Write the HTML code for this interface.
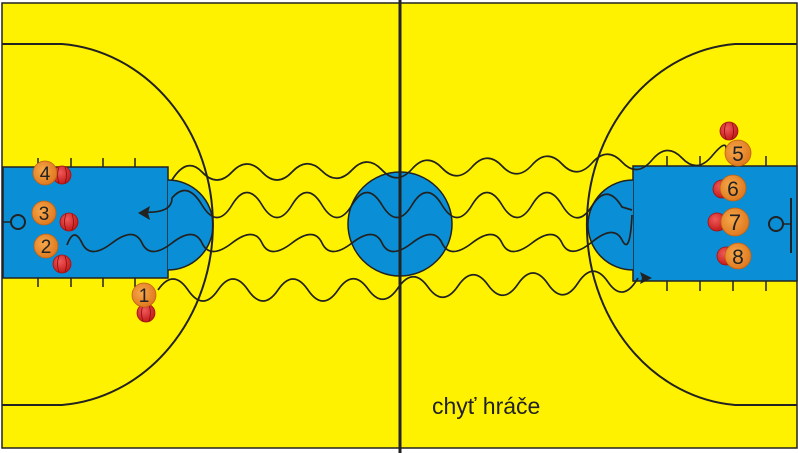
<!DOCTYPE html>
<html><head><meta charset="utf-8"><style>
html,body{margin:0;padding:0;background:#fff;}
svg{display:block;}
</style></head><body>
<svg width="798" height="453" viewBox="0 0 798 453" xmlns="http://www.w3.org/2000/svg">
<defs>
<radialGradient id="og" cx="0.4" cy="0.4" r="0.6"><stop offset="0" stop-color="#f7a84a"/><stop offset="1" stop-color="#e07a20"/></radialGradient>
<radialGradient id="rg" cx="0.4" cy="0.35" r="0.65"><stop offset="0" stop-color="#f05a5a"/><stop offset="1" stop-color="#c41a1a"/></radialGradient>
</defs>
<rect x="0" y="0" width="798" height="453" fill="#fff"/>
<rect x="2" y="3" width="795" height="445" fill="#fff200" stroke="#222" stroke-width="1.5"/>
<rect x="3" y="167" width="165" height="111" fill="#0a8fd6" stroke="#222" stroke-width="1.5"/>
<path d="M168,180 A42,42 0 0 1 168,270" fill="#0a8fd6" stroke="#222" stroke-width="1.5"/>
<rect x="633" y="166" width="164" height="115" fill="#0a8fd6" stroke="#222" stroke-width="1.5"/>
<path d="M633,180 A42,42 0 0 0 633,270" fill="#0a8fd6" stroke="#222" stroke-width="1.5"/>
<circle cx="400" cy="224" r="52" fill="#0a8fd6" stroke="#222" stroke-width="1.5"/>
<g stroke="#222" stroke-width="1.5">
<line x1="38" y1="158" x2="38" y2="167"/><line x1="71" y1="158" x2="71" y2="167"/><line x1="103" y1="158" x2="103" y2="167"/><line x1="135" y1="158" x2="135" y2="167"/>
<line x1="38" y1="278" x2="38" y2="287"/><line x1="71" y1="278" x2="71" y2="287"/><line x1="103" y1="278" x2="103" y2="287"/><line x1="135" y1="278" x2="135" y2="287"/>
<line x1="667" y1="156" x2="667" y2="166"/><line x1="700" y1="156" x2="700" y2="166"/><line x1="733" y1="156" x2="733" y2="166"/><line x1="766" y1="156" x2="766" y2="166"/>
<line x1="667" y1="281" x2="667" y2="291"/><line x1="700" y1="281" x2="700" y2="291"/><line x1="733" y1="281" x2="733" y2="291"/><line x1="766" y1="281" x2="766" y2="291"/>
</g>
<path d="M2,44 L62,44 A163,181 0 0 1 62,405 L2,405" fill="none" stroke="#222" stroke-width="2"/>
<path d="M797,44 L735,44 A160,181 0 0 0 735,405 L797,405" fill="none" stroke="#222" stroke-width="2"/>
<line x1="3" y1="222" x2="11" y2="222" stroke="#222" stroke-width="1.5"/>
<circle cx="18" cy="222" r="7" fill="none" stroke="#222" stroke-width="2"/>
<line x1="791" y1="198" x2="791" y2="253" stroke="#222" stroke-width="2"/>
<line x1="783" y1="224" x2="791" y2="224" stroke="#222" stroke-width="1.5"/>
<circle cx="776" cy="224" r="7" fill="none" stroke="#222" stroke-width="2"/>
<line x1="400" y1="0" x2="400" y2="453" stroke="#222" stroke-width="3"/>
<g fill="none" stroke="#222" stroke-width="1.7">
<path d="M172,180 Q187,156 202,172 T232,172 T262,172 T292,172 T322,171 T352,170 T382,170 T412,169 T442,168 T472,167 T502,166 T532,165 T562,164 T592,163 T622,162 T652,160 T682,158 T712,156 T726,150"/>
<path d="M142,212 Q172,214 172,198 Q187,180 202,205 T232,205 T262,205 T292,205 T322,205 T352,205 T382,205 T412,205 T442,205 T472,205 T502,205 T532,205 T562,205 T592,206 T622,207 L632,210"/>
<path d="M67,245 Q74,226 82,243 T112,243 T142,243 T172,243 T202,243 T232,243 T262,243 T292,243 T322,243 T352,243 T382,243 T412,243 T442,243 T472,243 T502,243 T532,243 T562,243 T592,242 T622,240 T632,215"/>
<path d="M158,290 Q173,268 188,290 T218,290 T248,290 T278,290 T308,290 T338,290 T368,289 T398,288 T428,287 T458,286 T488,285 T518,284 T548,284 T578,283 T608,282 T638,278"/>
</g>
<polygon points="138,213 150,206 148,213 150,220" fill="#222"/>
<polygon points="652,278 640,272 642,278 640,284" fill="#222"/>
<g fill="url(#rg)" stroke="#a01010" stroke-width="0.8">
<circle cx="62" cy="175" r="9"/><circle cx="69" cy="222" r="9"/><circle cx="62" cy="264" r="9"/><circle cx="146" cy="313" r="9"/>
<circle cx="729" cy="131" r="9"/><circle cx="722" cy="189" r="9"/><circle cx="717" cy="222" r="9"/><circle cx="726" cy="256" r="9"/>
</g>
<g fill="none" stroke="#8a0c0c" stroke-width="0.8">
<path d="M59,167 Q56,175 59,183 M65,167 Q68,175 65,183"/>
<path d="M66,214 Q63,222 66,230 M72,214 Q75,222 72,230"/>
<path d="M59,256 Q56,264 59,272 M65,256 Q68,264 65,272"/>
<path d="M143,305 Q140,313 143,321 M149,305 Q152,313 149,321"/>
<path d="M726,123 Q723,131 726,139 M732,123 Q735,131 732,139"/>
</g>
<g fill="url(#og)" stroke="#c06010" stroke-width="0.8">
<circle cx="45" cy="173" r="12"/><circle cx="44" cy="213" r="12"/><circle cx="46" cy="246" r="12"/><circle cx="144" cy="295" r="12"/>
<circle cx="738" cy="153" r="13"/><circle cx="733" cy="188" r="13"/><circle cx="735" cy="222" r="14"/><circle cx="738" cy="256" r="13"/>
</g>
<g font-family="Liberation Sans, sans-serif" font-size="19" fill="#222" text-anchor="middle">
<text x="45" y="180">4</text><text x="44" y="220">3</text><text x="46" y="253">2</text><text x="144" y="302">1</text>
<text x="738" y="161" font-size="21">5</text><text x="733" y="196" font-size="21">6</text><text x="735" y="230" font-size="22">7</text><text x="738" y="264" font-size="21">8</text>
</g>
<text x="432" y="414" font-family="Liberation Sans, sans-serif" font-size="23" fill="#222">chyť hráče</text>
</svg>
</body></html>
